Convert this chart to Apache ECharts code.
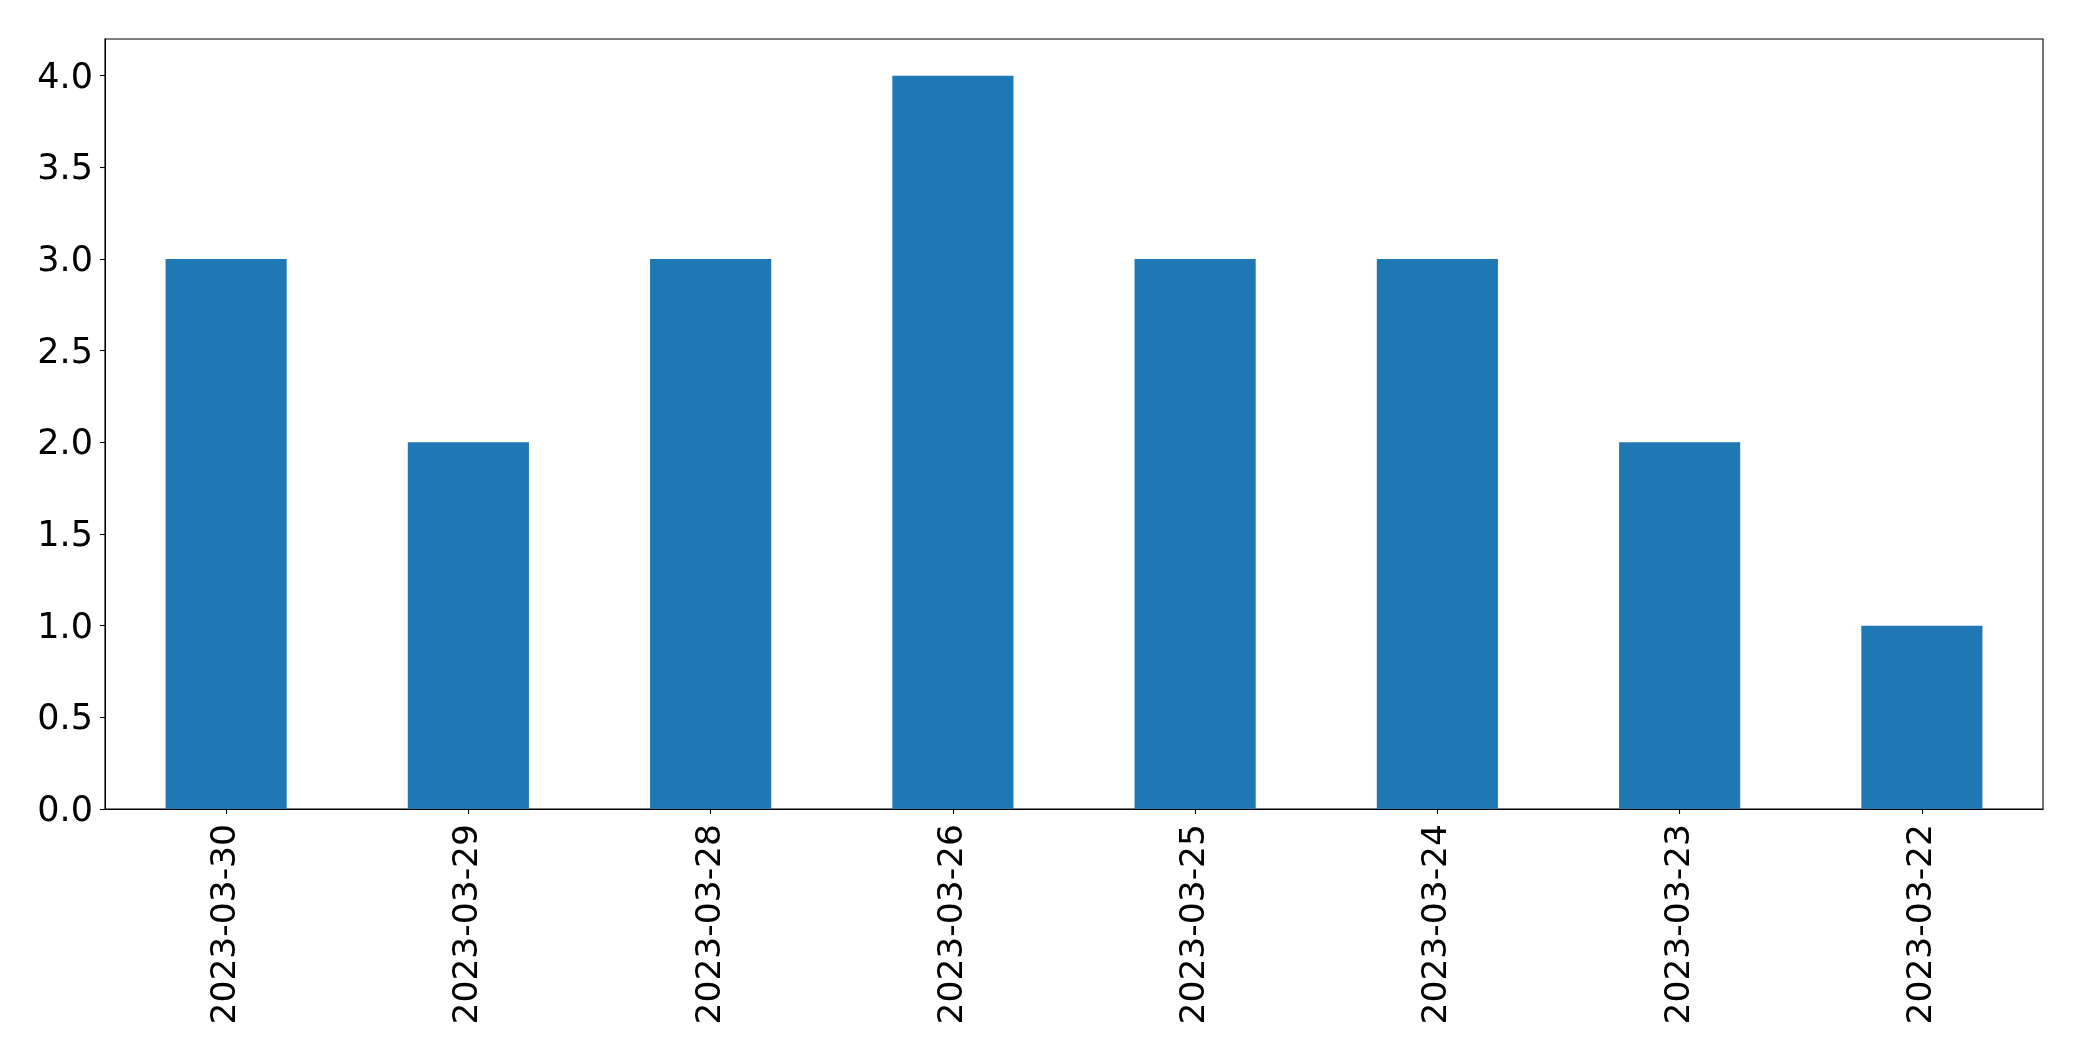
<!DOCTYPE html>
<html>
<head>
<meta charset="utf-8">
<script src="https://cdn.jsdelivr.net/npm/echarts@6/dist/echarts.min.js"></script>
<style>
html,body{margin:0;padding:0;background:#fff;}
#chart{width:2082px;height:1061px;}
</style>
</head>
<body>
<div id="chart"></div>
<script>
const categories = ['2023-03-30','2023-03-29','2023-03-28','2023-03-26','2023-03-25','2023-03-24','2023-03-23','2023-03-22'];
const values = [3, 2, 3, 4, 3, 3, 2, 1];
const yTicks = [0, 0.5, 1, 1.5, 2, 2.5, 3, 3.5, 4];

const chart = echarts.init(document.getElementById('chart'), null, {renderer: 'canvas'});
const font = 'DejaVu Sans';
chart.setOption({
  animation: false,
  backgroundColor: '#ffffff',
  grid: {
    left: 105, right: 39, top: 39, bottom: 252,
    show: true, borderColor: '#000', borderWidth: 1.1, backgroundColor: 'transparent'
  },
  xAxis: {
    type: 'category',
    data: categories,
    boundaryGap: true,
    axisLine: {show: true, lineStyle: {color: '#000', width: 1.1}},
    axisTick: {show: true, alignWithLabel: true, length: 5, lineStyle: {color: '#000', width: 1.1}},
    axisLabel: {rotate: 90, margin: 15, color: '#000', fontFamily: font, fontSize: 34.5, interval: 0},
    splitLine: {show: false}
  },
  yAxis: {
    type: 'value',
    min: 0, max: 4.2,
    axisLine: {show: true, lineStyle: {color: '#000', width: 1.1}},
    axisTick: {show: true, length: 5, customValues: yTicks, lineStyle: {color: '#000', width: 1.1}},
    axisLabel: {
      customValues: yTicks, margin: 12, color: '#000', fontFamily: font, fontSize: 35,
      formatter: v => '{t|' + Number(v).toFixed(1) + '}',
      rich: {t: {fontFamily: font, fontSize: 35, color: '#000', padding: [6, 0, 0, 0]}}
    },
    splitLine: {show: false}
  },
  series: [{
    type: 'bar',
    data: values,
    barWidth: '50%',
    itemStyle: {color: '#1f77b4'}
  }]
});
</script>
</body>
</html>
